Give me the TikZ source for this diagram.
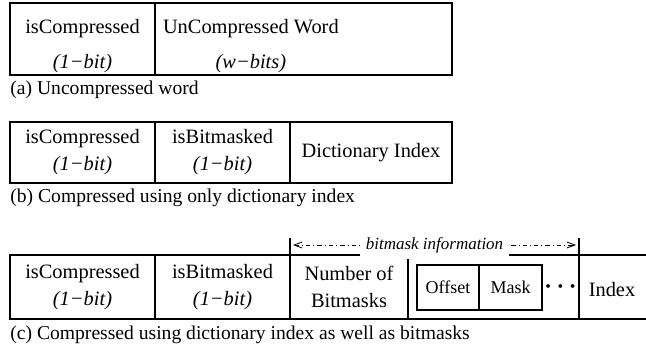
\documentclass[tikz,border=0pt]{standalone}
\usepackage{fontspec}
\setmainfont{Liberation Serif}
\usepackage{tikz}
\usetikzlibrary{calc}
\usetikzlibrary{positioning}
\usetikzlibrary{arrows.meta}
\tikzstyle{field} = [draw, rectangle, inner sep=0pt, outer sep=0pt, align=center, line width=0.65pt, font=\fontsize{10.2}{13.5}\selectfont]
\tikzstyle{subfield} = [field, font=\fontsize{9}{11}\selectfont]
\tikzstyle{caption} = [anchor=west, inner sep=0pt, font=\fontsize{9.8}{12}\selectfont]
\tikzstyle{dashdot} = [dash pattern=on 2.2pt off 1.5pt on 0.5pt off 1.5pt, line width=0.4pt]

\begin{document}
\begin{tikzpicture}[x=0.5pt, y=-0.5pt]
\clip (0,0) rectangle (646,353);
\fill[white] (0,0) rectangle (646,353);

\node[field, anchor=north west, minimum width=72.5pt, minimum height=36pt] (a_flag) at (10,3) {};
\node[field, draw=none] (a_flag_txt) at ($(a_flag.center)+(0,7.5)$) {isCompressed\\[4pt]\textit{(1−bit)}};
\node[field, right=0pt of a_flag, minimum width=148.5pt, minimum height=36pt] (a_word) {};
\node[field, draw=none, anchor=west] (a_word_txt) at ($(a_word.west)+(8,7.5)$) {UnCompressed Word\\[4pt]\textit{(w−bits)}};
\node[caption] (a_cap) at (10,90) {(a) Uncompressed word};

\node[field, anchor=north west, minimum width=72.5pt, minimum height=30.5pt] (b_flag) at (10,122) {isCompressed\\\textit{(1−bit)}};
\node[field, right=0pt of b_flag, minimum width=67.5pt, minimum height=30.5pt] (b_mask) {isBitmasked\\\textit{(1−bit)}};
\node[field, right=0pt of b_mask, minimum width=81pt, minimum height=30.5pt] (b_dict) {Dictionary Index};
\node[caption] (b_cap) at (10,198) {(b) Compressed using only dictionary index};

\node[field, anchor=north west, minimum width=72.5pt, minimum height=32pt] (c_flag) at (10,255) {isCompressed\\\textit{(1−bit)}};
\node[field, right=0pt of c_flag, minimum width=67.5pt, minimum height=32pt] (c_mask) {isBitmasked\\\textit{(1−bit)}};
\node[field, right=0pt of c_mask, minimum width=59pt, minimum height=32pt] (c_num) {Number of\\Bitmasks};
\node[field, right=0pt of c_num, minimum width=85.5pt, minimum height=32pt] (c_bits) {};
\node[field, right=0pt of c_bits, minimum width=45pt, minimum height=32pt] (c_idx) {};
\node[field, draw=none] (c_idx_txt) at ($(c_idx.center)+(-12,3)$) {Index};
\node[subfield, anchor=north west, minimum width=31pt, minimum height=22.5pt] (c_off) at ($(c_bits.north west)+(9,10)$) {Offset};
\node[subfield, right=0pt of c_off, minimum width=31.5pt, minimum height=22.5pt] (c_msk) {Mask};
\node[field, draw=none, font=\fontsize{13}{14}\selectfont\boldmath] (c_dots) at ($(c_msk.east)!0.5!(c_bits.east)+(0,0)$) {$\cdots$};
\node[caption] (c_cap) at (10,335) {(c) Compressed using dictionary index as well as bitmasks};

\coordinate (bm_tl) at ($(c_num.north west)+(0,-17)$);
\coordinate (bm_tr) at ($(c_bits.north east)+(0,-17)$);
\draw[line width=0.65pt] (c_num.north west) -- (bm_tl);
\draw[line width=0.65pt] (c_bits.north east) -- (bm_tr);
\coordinate (bm_l) at ($(c_num.north west)+(3,-10)$);
\coordinate (bm_r) at ($(c_bits.north east)+(-3,-10)$);
\draw[dashdot, {Straight Barb[length=4pt,width=3pt]}-{Straight Barb[length=4pt,width=3pt]}] (bm_l) -- (bm_r)
  node[midway, fill=white, inner sep=3pt, font=\fontsize{8.5}{10}\selectfont\itshape] (bm_txt) {bitmask information};
\end{tikzpicture}
\end{document}
